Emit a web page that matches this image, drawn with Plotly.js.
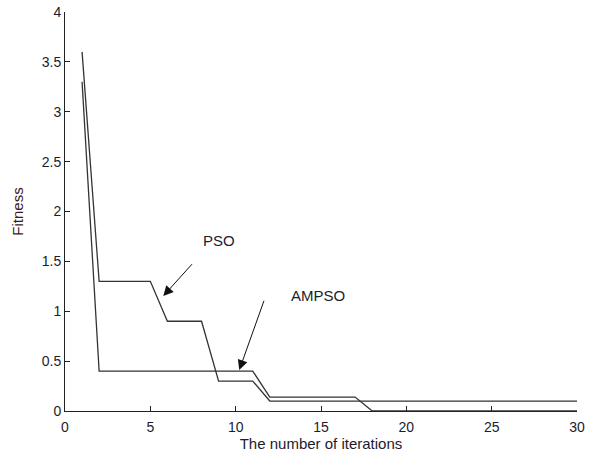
<!DOCTYPE html>
<html>
<head>
<meta charset="utf-8">
<script src="https://cdn.plot.ly/plotly-3.0.1.min.js"></script>
<style>html,body{margin:0;padding:0;background:#fff;}#chart{width:590px;height:457px;}</style>
</head>
<body>
<div id="chart"></div>
<script>
const iterations = [1,2,3,4,5,6,7,8,9,10,11,12,13,14,15,16,17,18,19,20,21,22,23,24,25,26,27,28,29,30];
const psoFitness = [3.6,1.3,1.3,1.3,1.3,0.9,0.9,0.9,0.3,0.3,0.3,0.1,0.1,0.1,0.1,0.1,0.1,0.1,0.1,0.1,0.1,0.1,0.1,0.1,0.1,0.1,0.1,0.1,0.1,0.1];
const ampsoFitness = [3.3,0.4,0.4,0.4,0.4,0.4,0.4,0.4,0.4,0.4,0.4,0.14,0.14,0.14,0.14,0.14,0.14,0,0,0,0,0,0,0,0,0,0,0,0,0];
const xTicks = [0,5,10,15,20,25,30];
const yTicks = [0,0.5,1,1.5,2,2.5,3,3.5,4];

const lineStyle = {color:'#333333', width:1.3};
const txtColor = '#1c1c2c';
const fnt = 'Arial, "Liberation Sans", sans-serif';

const traces = [
  {x: iterations, y: psoFitness, mode:'lines', name:'PSO', line: lineStyle},
  {x: iterations, y: ampsoFitness, mode:'lines', name:'AMPSO', line: lineStyle}
];

const layout = {
  width: 590, height: 457,
  margin: {l:65, r:13, t:12, b:46},
  paper_bgcolor:'#fff', plot_bgcolor:'#fff',
  showlegend:false,
  font:{family:fnt, size:14, color:txtColor},
  xaxis:{range:[0,30], tickvals:xTicks, ticktext:xTicks.map(String), ticks:'inside', ticklen:5, tickcolor:'#222',
         showline:true, linecolor:'#222', linewidth:1, showgrid:false, zeroline:false, mirror:false,
         tickfont:{size:14}, ticklabelstandoff:3,
         title:{text:'The number of iterations', font:{size:15, color:txtColor}, standoff:2}, automargin:false},
  yaxis:{range:[0,4], tickvals:yTicks, ticktext:yTicks.map(String), ticks:'inside', ticklen:5, tickcolor:'#222',
         showline:true, linecolor:'#222', linewidth:1, showgrid:false, zeroline:false, mirror:false,
         tickfont:{size:14},
         title:{text:'Fitness', font:{size:15, color:'#3a1a1a'}, standoff:14}, automargin:false},
  annotations:[
    {x:9.03, y:1.71, xref:'x', yref:'y', text:'PSO', showarrow:false, font:{size:15, color:txtColor}},
    {x:14.83, y:1.16, xref:'x', yref:'y', text:'AMPSO', showarrow:false, font:{size:15, color:txtColor}},
    {x:5.76, y:1.153, ax:7.52, ay:1.487, xref:'x', yref:'y', axref:'x', ayref:'y', text:'', showarrow:true,
     arrowhead:2, arrowsize:2, arrowwidth:1, arrowcolor:'#111'},
    {x:10.21, y:0.41, ax:11.69, ay:1.12, xref:'x', yref:'y', axref:'x', ayref:'y', text:'', showarrow:true,
     arrowhead:2, arrowsize:2, arrowwidth:1, arrowcolor:'#111'}
  ]
};

Plotly.newPlot('chart', traces, layout, {displayModeBar:false, staticPlot:true});
</script>
</body>
</html>
